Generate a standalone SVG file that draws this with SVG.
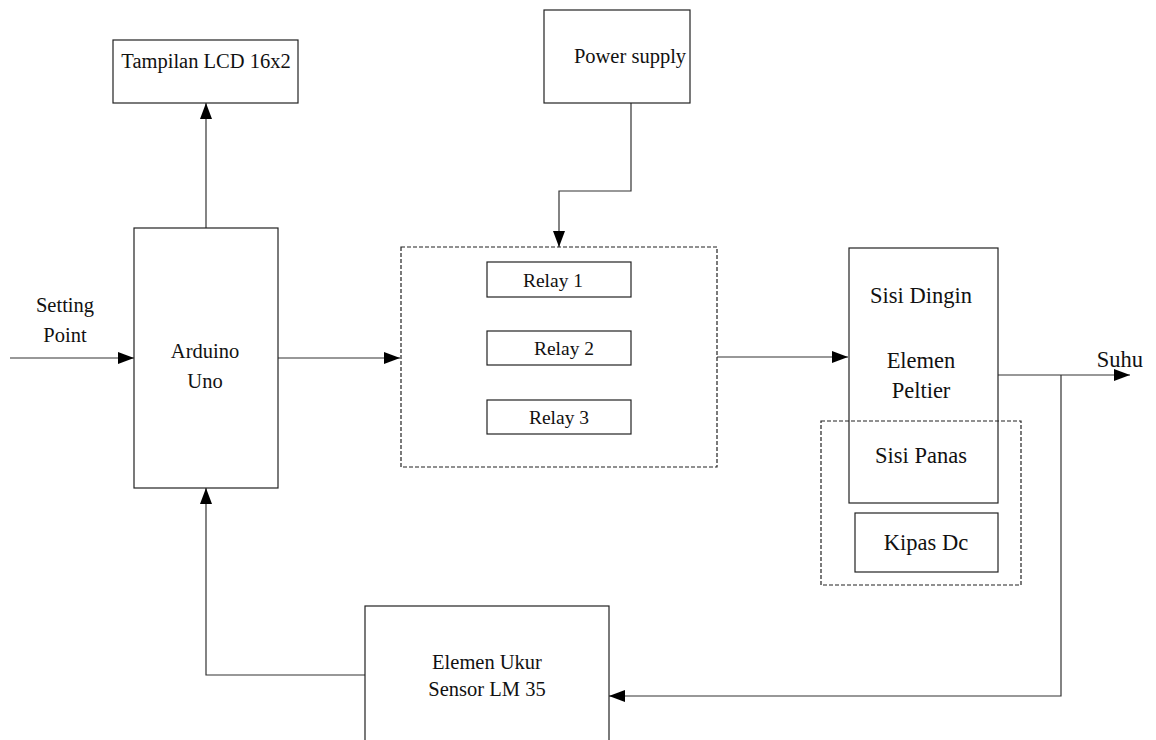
<svg xmlns="http://www.w3.org/2000/svg" width="1156" height="740" viewBox="0 0 1156 740">
<style>
.box{fill:#fff;stroke:#222;stroke-width:1.2}
.dash{fill:none;stroke:#222;stroke-width:1.2;stroke-dasharray:4,2}
.ln{fill:none;stroke:#333;stroke-width:1.2}
text{font-family:"Liberation Serif","Times New Roman",serif;font-size:20.5px;fill:#111;text-anchor:middle}
.sm{font-size:19.5px}
.lg{font-size:22.5px}
</style>
<defs>
<marker id="ah" markerWidth="16" markerHeight="12" refX="16" refY="6" orient="auto" markerUnits="userSpaceOnUse">
<path d="M0,0 L16,6 L0,12 Z" fill="#000"/>
</marker>
</defs>
<rect width="1156" height="740" fill="#fff"/>
<g id="connectors">
<path class="ln" d="M206,228 V103" marker-end="url(#ah)"/>
<path class="ln" d="M10,358 H134" marker-end="url(#ah)"/>
<path class="ln" d="M278,358 H400" marker-end="url(#ah)"/>
<path class="ln" d="M631,103 V191 H559 V247" marker-end="url(#ah)"/>
<path class="ln" d="M717,357 H848" marker-end="url(#ah)"/>
<path class="ln" d="M998,375 H1130" marker-end="url(#ah)"/>
<path class="ln" d="M1061,375 V696 H609" marker-end="url(#ah)"/>
<path class="ln" d="M365,675 H206 V488" marker-end="url(#ah)"/>
</g>
<g id="lcd"><rect class="box" x="113" y="40" width="185" height="63"/><text x="206" y="68">Tampilan LCD 16x2</text></g>
<g id="power"><rect class="box" x="544" y="10" width="146" height="93"/><text x="630" y="63">Power supply</text></g>
<g id="setpoint"><text x="65" y="312">Setting</text><text x="65" y="342">Point</text></g>
<g id="arduino"><rect class="box" x="134" y="228" width="144" height="260"/><text x="205" y="358">Arduino</text><text x="205" y="388">Uno</text></g>
<g id="relays"><rect class="dash" x="401" y="247" width="316" height="220"/></g>
<g id="relay1"><rect class="box" x="487" y="262" width="144" height="35"/><text class="sm" x="553" y="287">Relay 1</text></g>
<g id="relay2"><rect class="box" x="487" y="331" width="144" height="34"/><text class="sm" x="564" y="355">Relay 2</text></g>
<g id="relay3"><rect class="box" x="487" y="400" width="144" height="34"/><text class="sm" x="559" y="424">Relay 3</text></g>
<g id="peltier"><rect class="box" x="849" y="248" width="149" height="255"/><text class="lg" x="921" y="303">Sisi Dingin</text><text class="lg" x="921" y="368">Elemen</text><text class="lg" x="921" y="398">Peltier</text><text class="lg" x="921" y="463">Sisi Panas</text></g>
<g id="hotside"><rect class="dash" x="821" y="421" width="200" height="164"/></g>
<g id="kipas"><rect class="box" x="855" y="513" width="143" height="59"/><text class="lg" x="926" y="550">Kipas Dc</text></g>
<g id="suhu"><text class="lg" x="1120" y="367">Suhu</text></g>
<g id="sensor"><rect class="box" x="365" y="606" width="244" height="150"/><text x="487" y="669">Elemen Ukur</text><text x="487" y="696">Sensor LM 35</text></g>
</svg>
